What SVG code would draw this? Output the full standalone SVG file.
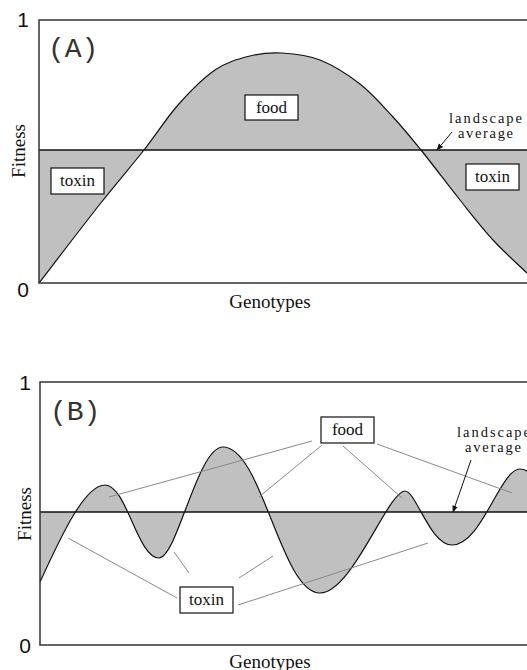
<svg xmlns="http://www.w3.org/2000/svg" width="527" height="670" viewBox="0 0 527 670">
<style>
.frame{fill:none;stroke:#333;stroke-width:1.5}
.fill{fill:#c0c0c0;stroke:none}
.curve{fill:none;stroke:#111;stroke-width:1.2}
.mean{stroke:#111;stroke-width:1.5}
.lead{stroke:#888;stroke-width:1;fill:none}
.box{fill:#fff;stroke:#111;stroke-width:1.2}
.lbl{font-family:"Liberation Serif",serif;font-size:17px;fill:#111;text-anchor:middle}
.ax{font-family:"Liberation Serif",serif;font-size:19px;fill:#111;text-anchor:middle}
.num{font-family:"Liberation Sans",sans-serif;font-size:21px;fill:#111;text-anchor:end}
.pan{font-family:"Liberation Mono",monospace;font-size:28px;fill:#333}
.avg{font-family:"Liberation Serif",serif;font-size:14.5px;fill:#111}
.arr{stroke:#111;stroke-width:1;fill:none}
</style>
<defs>
<marker id="ah" viewBox="0 0 10 10" refX="9" refY="5" markerWidth="7" markerHeight="7" orient="auto" markerUnits="userSpaceOnUse">
<path d="M0,1 L10,5 L0,9 Z" fill="#111"/>
</marker>
</defs>
<rect x="0" y="0" width="527" height="670" fill="#fff"/>

<g id="panelA">
<path class="fill" d="M39,283 C49.2,269.8 82.5,226.2 100,204 C117.5,181.8 131,166.5 144,150 C157,133.5 166.2,118.3 178,105 C189.8,91.7 203,78.2 215,70 C227,61.8 238.8,58.8 250,56 C261.2,53.2 270.3,52.3 282,53 C293.7,53.7 307,54.8 320,60 C333,65.2 347.8,74.5 360,84 C372.2,93.5 382.8,106 393,117 C403.2,128 409.8,136.2 421,150 C432.2,163.8 448,185 460,200 C472,215 481.8,227.8 493,240 C504.2,252.2 521.3,267.5 527,273 L527,150 L39,150 Z"/>
<path class="curve" d="M39,283 C49.2,269.8 82.5,226.2 100,204 C117.5,181.8 131,166.5 144,150 C157,133.5 166.2,118.3 178,105 C189.8,91.7 203,78.2 215,70 C227,61.8 238.8,58.8 250,56 C261.2,53.2 270.3,52.3 282,53 C293.7,53.7 307,54.8 320,60 C333,65.2 347.8,74.5 360,84 C372.2,93.5 382.8,106 393,117 C403.2,128 409.8,136.2 421,150 C432.2,163.8 448,185 460,200 C472,215 481.8,227.8 493,240 C504.2,252.2 521.3,267.5 527,273"/>
<line class="mean" x1="39" y1="150" x2="530" y2="150"/>
<rect class="frame" x="39" y="20" width="500" height="263"/>
<text class="pan" x="48" y="57">(A)</text>
<text class="num" x="29" y="27">1</text>
<text class="num" x="29" y="297">0</text>
<text class="ax" x="270" y="308">Genotypes</text>
<text class="ax" transform="translate(25,151) rotate(-90)">Fitness</text>
</g>

<g id="foodA">
<rect class="box" x="245" y="95" width="53" height="25"/>
<text class="lbl" x="271.5" y="113">food</text>
</g>
<g id="toxinA1">
<rect class="box" x="51" y="168" width="53" height="26"/>
<text class="lbl" x="77.5" y="186">toxin</text>
</g>
<g id="toxinA2">
<rect class="box" x="466" y="164" width="53" height="26"/>
<text class="lbl" x="492.5" y="182">toxin</text>
</g>
<g id="avgA">
<text class="avg" x="449" y="123" textLength="73">landscape</text>
<text class="avg" x="458" y="138" textLength="55">average</text>
</g>

<g id="panelB">
<path class="fill" d="M40,582 C62,534 85,485 105,485 C126.6,485 137.4,558 159,558 C177,558 197.4,447 223,447 C262,447 281,593 320,593 C352,593 388,491 405,491 C416,491 430,545 452,545 C482,545 500,469 520,469 C527,469 531,474 536,480 L536,512 L40,512 Z"/>
<path class="curve" d="M40,582 C62,534 85,485 105,485 C126.6,485 137.4,558 159,558 C177,558 197.4,447 223,447 C262,447 281,593 320,593 C352,593 388,491 405,491 C416,491 430,545 452,545 C482,545 500,469 520,469 C527,469 531,474 536,480"/>
<line class="mean" x1="40" y1="512" x2="530" y2="512"/>
<rect class="frame" x="40" y="382" width="500" height="263"/>
<text class="pan" x="50" y="420">(B)</text>
<text class="num" x="31" y="390">1</text>
<text class="num" x="31" y="653">0</text>
<text class="ax" x="270" y="668">Genotypes</text>
<text class="ax" transform="translate(31,514) rotate(-90)">Fitness</text>
</g>

<g id="connectors">
<line class="lead" x1="312" y1="441" x2="109" y2="497"/>
<line class="lead" x1="322" y1="445" x2="259" y2="497"/>
<line class="lead" x1="343" y1="446" x2="402" y2="498"/>
<line class="lead" x1="377" y1="444" x2="512" y2="493"/>
<line class="lead" x1="177" y1="598" x2="68" y2="538"/>
<line class="lead" x1="189" y1="573" x2="174" y2="552"/>
<line class="lead" x1="239" y1="578" x2="273" y2="556"/>
<line class="lead" x1="238" y1="605" x2="428" y2="543"/>
<line class="arr" x1="452" y1="132" x2="437" y2="150" marker-end="url(#ah)"/>
<line class="arr" x1="471" y1="460" x2="453" y2="512" marker-end="url(#ah)"/>
</g>

<g id="foodB">
<rect class="box" x="321" y="417" width="53" height="26"/>
<text class="lbl" x="347.5" y="435">food</text>
</g>
<g id="toxinB">
<rect class="box" x="180" y="587" width="53" height="26"/>
<text class="lbl" x="206.5" y="605">toxin</text>
</g>
<g id="avgB">
<text class="avg" x="457" y="436.5" textLength="73">landscape</text>
<text class="avg" x="465" y="452" textLength="56">average</text>
</g>
</svg>
